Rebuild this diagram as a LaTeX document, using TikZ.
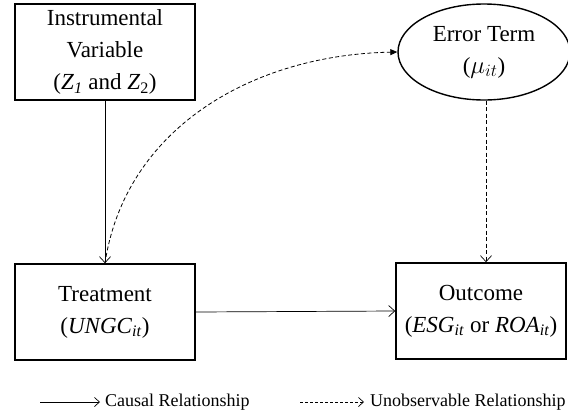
\documentclass[tikz,border=0pt]{standalone}
\usepackage{fontspec}
\setmainfont{Liberation Serif}
\usetikzlibrary{arrows.meta,shapes.geometric,calc}
\tikzset{
  box/.style={draw,line width=1.6pt,minimum width=180pt,minimum height=96pt,inner sep=0pt,align=center,font=\fontsize{23}{32}\selectfont},
  oval/.style={ellipse,draw,line width=1.4pt,minimum width=172pt,minimum height=96pt,inner sep=0pt,align=center,font=\fontsize{23}{32}\selectfont},
  arr/.style={line width=0.7pt,-{Straight Barb[length=6pt,width=11pt,line width=0.7pt]}},
  darr/.style={line width=0.8pt,dash pattern=on 4pt off 2.5pt},
  legtext/.style={anchor=west,inner sep=0pt,font=\fontsize{18}{20}\selectfont}
}
\begin{document}
\begin{tikzpicture}[x=1pt,y=-1pt]
\useasboundingbox (0,0) rectangle (568,418);
\node[box] (iv) at (105,52) {Instrumental\\Variable\\(\textit{Z}\textsubscript{\textit{1}} and \textit{Z}\textsubscript{2})};
\node[box] (tr) at (105,312) {Treatment\\(\textit{UNGC}\textsubscript{\textit{it}})};
\node[box,minimum width=170pt] (out) at (481,311) {Outcome\\(\textit{ESG}\textsubscript{\textit{it}} or \textit{ROA}\textsubscript{\textit{it}})};
\node[oval] (err) at (484,52) {Error Term\\($\mu_{it}$)};
\coordinate (eb) at ($(err.south)+(2,0)$);
\draw[arr] (iv.south) -- (tr.north);
\draw[arr] (tr.east) -- (out.west);
\draw[darr,-{Straight Barb[length=6pt,width=11pt,line width=0.7pt]}] (eb) -- (eb |- out.north);
\draw[darr,-{Triangle[length=7pt,width=6pt]}] (tr.north) .. controls (125,130) and (250,55) .. (err.west);
% legend
\coordinate (l1a) at (40,402);
\coordinate (l1b) at (100,402);
\coordinate (l2a) at (300,402);
\coordinate (l2b) at (364,402);
\draw[line width=0.7pt,-{Straight Barb[length=5pt,width=9pt,line width=0.7pt]}] (l1a) -- (l1b);
\draw[line width=0.7pt,dash pattern=on 3pt off 2pt,-{Straight Barb[length=5pt,width=9pt,line width=0.7pt]}] (l2a) -- (l2b);
\node[legtext] (c1) at ($(l1b)+(5,0)$) {Causal Relationship};
\node[legtext] (c2) at ($(l2b)+(6,0)$) {Unobservable Relationship};
\end{tikzpicture}
\end{document}
